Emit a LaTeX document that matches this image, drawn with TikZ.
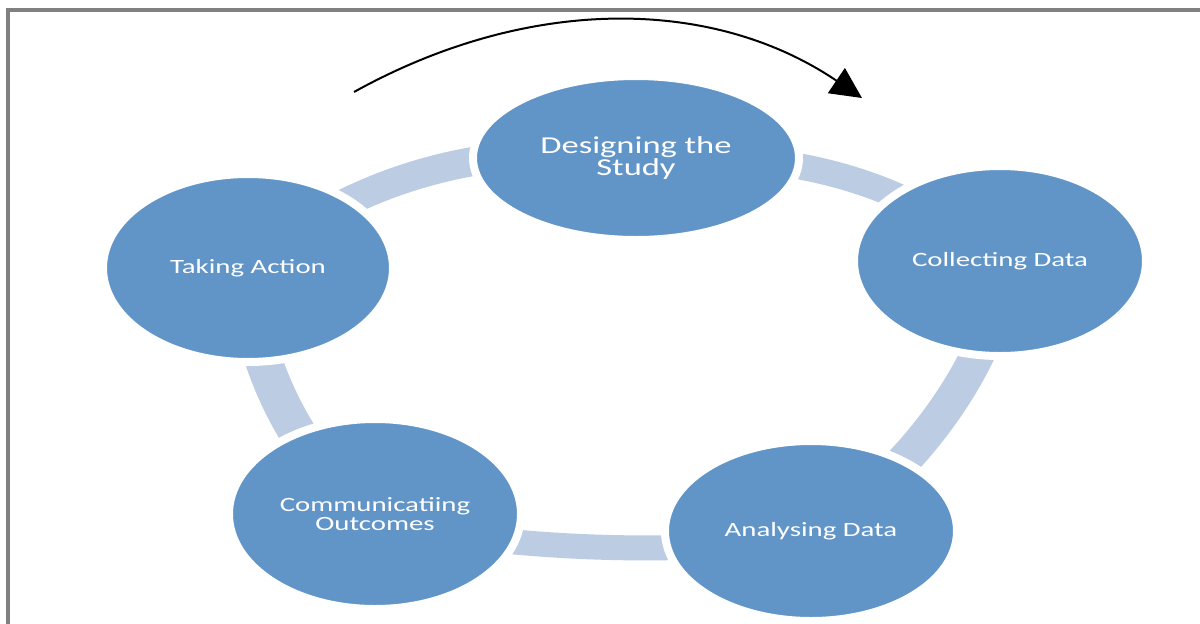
\documentclass[tikz,border=0pt]{standalone}
\usepackage{fontspec}
\newfontfamily\stagefont[FakeStretch=1.42]{Carlito}
\usetikzlibrary{arrows.meta,shapes.geometric,backgrounds}
\definecolor{stageblue}{HTML}{6195C8}
\definecolor{bandblue}{HTML}{BBCCE3}
\definecolor{framegray}{HTML}{808080}
\begin{document}
\begin{tikzpicture}[x=1pt,y=-1pt,
  stage/.style={ellipse,fill=stageblue,draw=white,line width=8pt,inner sep=0pt,
    text=white,align=center,font=\stagefont\fontsize{20.3}{19}\selectfont},
  bandline/.style={draw=bandblue,line cap=butt},
  borderline/.style={draw=framegray,line width=4pt},
  cyclearrow/.style={draw=black,line width=2pt,-{Triangle[length=31pt,width=30pt]}}]
\useasboundingbox (0,0) rectangle (1200,624);
% border
\draw[borderline] (8,624) -- (8,10) -- (1200,10);
% stages
\node[stage,minimum width=326pt,minimum height=164pt,
  font=\stagefont\fontsize{24.3}{21}\selectfont] (design) at (636,158) {Designing the\\Study};
\node[stage,minimum width=292pt,minimum height=190pt] (collect) at (1000,261) {Collecting Data};
\node[stage,minimum width=292pt,minimum height=180pt] (analyse) at (811,531) {Analysing Data};
\node[stage,minimum width=292pt,minimum height=190pt] (comm) at (375,514) {Communicatiing\\Outcomes};
\node[stage,minimum width=290pt,minimum height=188pt] (take) at (248,268) {Taking Action};
% bands
\begin{scope}[on background layer]
\draw[bandline,line width=29pt] (take.center) .. controls (353.5,174.9) and (496,140) .. (design.center);
\draw[bandline,line width=26pt] (design.center) .. controls (780,150) and (900,175) .. (collect.center);
\draw[bandline,line width=34pt] (collect.center) .. controls (1010,340) and (905,490) .. (analyse.center);
\draw[bandline,line width=25pt] (analyse.center) .. controls (730,560) and (450,550) .. (comm.center);
\draw[bandline,line width=37pt] (comm.center) .. controls (300,470) and (245,350) .. (take.center);
\end{scope}
% cycle arrow
\coordinate (arrowstart) at (354,92);
\coordinate (arrowend) at (862,98);
\draw[cyclearrow] (arrowstart) .. controls (529,-5) and (713,-3) .. (arrowend);
\end{tikzpicture}
\end{document}
